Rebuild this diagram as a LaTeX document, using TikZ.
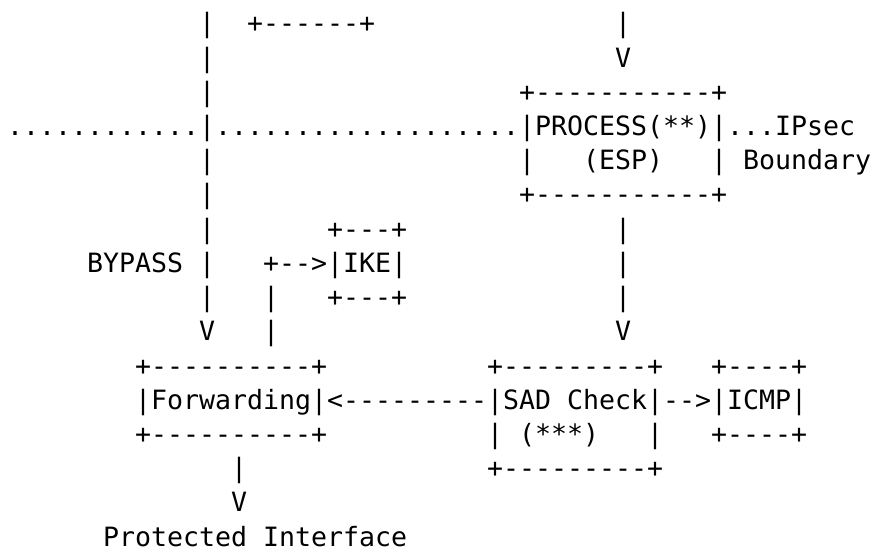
\documentclass[tikz,border=0pt]{standalone}
\usepackage{fontspec}
\setmonofont{DejaVu Sans Mono}
\begin{document}
\begin{tikzpicture}[x=1bp,y=-1bp,
  asc/.style={anchor=base west, inner sep=0pt, outer sep=0pt,
    font=\ttfamily\fontsize{26.58bp}{34bp}\selectfont, text=black}]
\fill[white] (0,0) rectangle (873,551);
\useasboundingbox (0,0) rectangle (873,551);
% column c -> x = 7 + 16 c ; row r -> baseline = 33 + 34.2 (r-1)
\def\cx#1{{7+16*#1}}
\def\ry#1{{33+34.2*(#1-1)}}
% row 1
\node[asc] (r1a) at (\cx{12},\ry{1}) {|};
\node[asc] (r1b) at (\cx{15},\ry{1}) {+------+};
\node[asc] (r1c) at (\cx{38},\ry{1}) {|};
% row 2
\node[asc] (r2a) at (\cx{12},\ry{2}) {|};
\node[asc] (r2b) at (\cx{38},\ry{2}) {V};
% row 3
\node[asc] (r3a) at (\cx{12},\ry{3}) {|};
\node[asc] (r3b) at (\cx{32},\ry{3}) {+-----------+};
% row 4
\node[asc] (r4a) at (\cx{0},\ry{4}) {............|...................|PROCESS(**)|...IPsec};
% row 5
\node[asc] (r5a) at (\cx{12},\ry{5}) {|};
\node[asc] (r5b) at (\cx{32},\ry{5}) {|};
\node[asc] (r5c) at (\cx{36},\ry{5}) {(ESP)};
\node[asc] (r5d) at (\cx{44},\ry{5}) {| Boundary};
% row 6
\node[asc] (r6a) at (\cx{12},\ry{6}) {|};
\node[asc] (r6b) at (\cx{32},\ry{6}) {+-----------+};
% row 7
\node[asc] (r7a) at (\cx{12},\ry{7}) {|};
\node[asc] (r7b) at (\cx{20},\ry{7}) {+---+};
\node[asc] (r7c) at (\cx{38},\ry{7}) {|};
% row 8
\node[asc] (r8a) at (\cx{5},\ry{8}) {BYPASS |};
\node[asc] (r8b) at (\cx{16},\ry{8}) {+-->|IKE|};
\node[asc] (r8c) at (\cx{38},\ry{8}) {|};
% row 9
\node[asc] (r9a) at (\cx{12},\ry{9}) {|};
\node[asc] (r9b) at (\cx{16},\ry{9}) {|};
\node[asc] (r9c) at (\cx{20},\ry{9}) {+---+};
\node[asc] (r9d) at (\cx{38},\ry{9}) {|};
% row 10
\node[asc] (r10a) at (\cx{12},\ry{10}) {V};
\node[asc] (r10b) at (\cx{16},\ry{10}) {|};
\node[asc] (r10c) at (\cx{38},\ry{10}) {V};
% row 11
\node[asc] (r11a) at (\cx{8},\ry{11}) {+----------+};
\node[asc] (r11b) at (\cx{30},\ry{11}) {+---------+};
\node[asc] (r11c) at (\cx{44},\ry{11}) {+----+};
% row 12
\node[asc] (r12a) at (\cx{8},\ry{12}) {|Forwarding|<---------|SAD Check|-->|ICMP|};
% row 13
\node[asc] (r13a) at (\cx{8},\ry{13}) {+----------+};
\node[asc] (r13b) at (\cx{30},\ry{13}) {| (***)};
\node[asc] (r13c) at (\cx{40},\ry{13}) {|};
\node[asc] (r13d) at (\cx{44},\ry{13}) {+----+};
% row 14
\node[asc] (r14a) at (\cx{14},\ry{14}) {|};
\node[asc] (r14b) at (\cx{30},\ry{14}) {+---------+};
% row 15
\node[asc] (r15a) at (\cx{14},\ry{15}) {V};
% row 16
\node[asc, text depth=0pt] (r16a) at (\cx{6},\ry{16}) {Protected Interface};
\end{tikzpicture}
\end{document}
